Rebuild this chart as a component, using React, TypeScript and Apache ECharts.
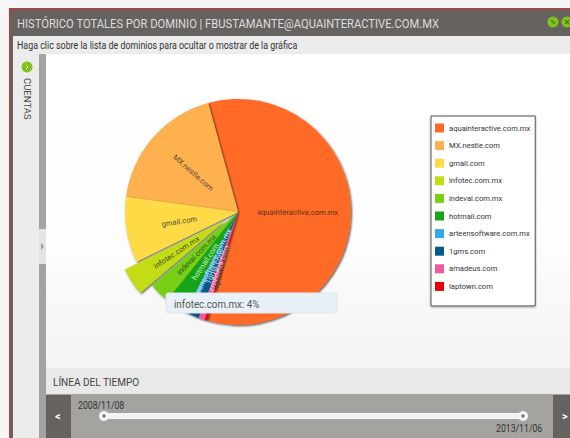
import React, { useEffect, useRef } from "react";
import * as echarts from "echarts";

const domains = ["aquainteractive.com.mx","MX.nestle.com","gmail.com","infotec.com.mx","indeval.com.mx","hotmail.com","arteensoftware.com.mx","1gms.com","amadeus.com","laptown.com"];
const shares = [58.7,18.6,9.4,4,3,3,0.7,1.4,0.9,0.3];
const colors = ["#ff6a28","#ffb04f","#ffda47","#c3dc14","#77cf17","#18a518","#33a9ea","#005a8c","#f4589b","#e60000"];
const labelColors = ["#5a2e1c","#5e4a30","#55501f","#3f4d10","#2a4f10","#d8f0c8","#d8eaf8","#cfe0ea","#f8d8e4","#444444"];
const FONT = "Roboto, sans-serif";
const Z = 100;

const text = (x:number,y:number,t:string,fill:string,size:number,sx:number,extra:any={}) => ({type:"text",z:Z,silent:true,x,y,scaleX:sx,style:{text:t,fill,font:`${size}px ${FONT}`,textVerticalAlign:"middle",...extra}});
const dot = (cx:number,cy:number,r:number,fill:string,extra:any={}) => ({type:"circle",z:Z,silent:true,shape:{cx,cy,r},style:{fill,...extra}});
const seg = (x1:number,y1:number,x2:number,y2:number,stroke:string,lineWidth:number) => ({type:"line",z:Z,silent:true,shape:{x1,y1,x2,y2},style:{stroke,lineWidth}});

const box = (left:number,top:number,width:number,height:number,background:string):React.CSSProperties => ({position:"absolute",left,top,width,height,background});

export default function App(){
  const ref = useRef<HTMLDivElement>(null);
  useEffect(()=>{
    const chart = echarts.init(ref.current!,undefined,{renderer:"svg"});
    chart.setOption({
      animation:false,
      backgroundColor:"transparent",
      color:colors,
      legend:{
        orient:"vertical",left:431,top:116,
        padding:[7.5,5,15,4],itemGap:8.6,itemWidth:9,itemHeight:9,icon:"rect",
        backgroundColor:"#ffffff",borderColor:"#555",borderWidth:1,
        shadowColor:"rgba(0,0,0,0.35)",shadowBlur:2,shadowOffsetY:1,
        textStyle:{fontFamily:FONT,fontSize:7.6,color:"#333"},
        data:domains,
      },
      series:[{
        type:"pie",center:[238,212],radius:[0,113],startAngle:-106,clockwise:false,
        selectedMode:"single",selectedOffset:14,avoidLabelOverlap:false,
        label:{show:true,position:"inside",rotate:"radial",fontFamily:FONT,fontSize:7.6,formatter:"{b}"},
        labelLine:{show:false},
        labelLayout:()=>({hideOverlap:false}),
        itemStyle:{borderWidth:0,shadowColor:"rgba(0,0,0,0.7)",shadowBlur:2,shadowOffsetX:1,shadowOffsetY:1},
        emphasis:{disabled:true},
        data:domains.map((name,i)=>({name,value:shares[i],selected:i===3,label:{color:labelColors[i]}})),
      }],
      graphic:{elements:[
        text(17,23,"HISTÓRICO TOTALES POR DOMINIO | FBUSTAMANTE@AQUAINTERACTIVE.COM.MX","#dcdcdc",13.5,0.83),
        dot(553,22,5.5,"#7fc31c"), seg(551,20,555,24,"#4f7a10",1.5),
        dot(567,22,5.5,"#7fc31c"), seg(565,20,569,24,"#4f7a10",1.2), seg(565,24,569,20,"#4f7a10",1.2),
        text(17,45.5,"Haga clic sobre la lista de dominios para ocultar o mostrar de la gráfica","#333",10.5,0.846),
        dot(27,67,5.5,"#7fc31c"), seg(26,65,28,67,"#fff",1), seg(28,67,26,69,"#fff",1),
        {type:"text",z:Z,silent:true,x:27,y:78,rotation:-Math.PI/2,style:{text:"CUENTAS",fill:"#444",font:`9.5px ${FONT}`,textAlign:"left",textVerticalAlign:"middle"}},
        text(53,382.5,"LÍNEA DEL TIEMPO","#444",10.5,0.955),
        text(55,416,"<","#fff",11,1,{font:`bold 11px ${FONT}`}),
        text(562,416,">","#fff",11,1,{font:`bold 11px ${FONT}`}),
        text(78,405,"2008/11/08","#333",10,0.87),
        text(496,428.5,"2013/11/06","#333",10,0.87),
        dot(104,416,5,"#f5f5f5"), dot(104,416,1.7,"#777"),
        dot(523,416,5,"#f5f5f5"), dot(523,416,1.7,"#777"),
        {type:"polygon",z:Z,silent:true,shape:{points:[[41,243],[44,246.5],[41,250]]},style:{fill:"#999"}},
        {type:"rect",z:Z,silent:true,shape:{x:166,y:293,width:171,height:20,r:2},style:{fill:"#e9f1f8",stroke:"#dfe6ec",lineWidth:1}},
        text(174,304,"infotec.com.mx: 4%","#555",10.5,0.93,{}),
      ]},
    });
    return ()=>chart.dispose();
  },[]);
  return <div style={{position:"fixed",left:0,top:0,width:570,height:438,overflow:"hidden",background:"#f6f6f6"}}>
    <div style={box(9,8,561,430,"#d9342b")}/>
    <div style={box(10,9,560,429,"#666260")}/>
    <div style={box(13,36,557,402,"#ececec")}/>
    <div style={box(39,54,7,384,"#a5a3a1")}/>
    <div style={box(39,229,7,35,"#e4e4e4")}/>
    <div style={box(46,54,524,314,"linear-gradient(#ffffff 0%,#fdfdfd 60%,#f3f3f3 100%)")}/>
    <div style={box(46,368,524,26,"#e9e9e9")}/>
    <div style={box(46,394,524,44,"#a5a3a0")}/>
    <div style={box(46,395,25,43,"#666260")}/>
    <div style={box(553,395,17,43,"#666260")}/>
    <div style={box(104,413,419,6,"#f3f3f3")}/>
    <div ref={ref} style={{position:"absolute",left:0,top:0,width:570,height:438}}/>
  </div>;
}
